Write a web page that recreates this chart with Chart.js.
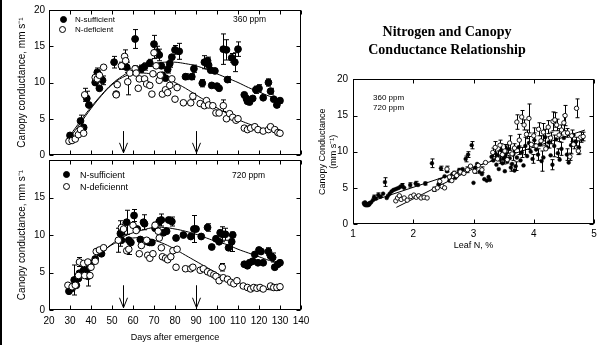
<!DOCTYPE html>
<html>
<head>
<meta charset="utf-8">
<script src="https://cdn.jsdelivr.net/npm/chart.js@4.4.0/dist/chart.umd.min.js"></script>
<style>
  html, body { margin: 0; padding: 0; background: #fff; overflow: hidden; }
  #wrap { position: relative; width: 601px; height: 345px; overflow: hidden; font-family: 'Liberation Sans', Arial, sans-serif; color: #000; }
  canvas { position: absolute; }
  .edge { position: absolute; left: 0; top: 0; width: 2px; height: 345px; background: #000; }
  .lbl { position: absolute; white-space: nowrap; line-height: 1; }
  .dot { position: absolute; width: 7px; height: 7px; border-radius: 50%; box-sizing: border-box; border: 1px solid #000; }
  .dot.fill { background: #000; }
  .dot.open { background: #fff; }
</style>
</head>
<body>
<div id="wrap">
  <div class="edge"></div>
  <canvas id="topChart" width="320" height="165" style="left:0;top:0"></canvas>
  <canvas id="bottomChart" width="320" height="195" style="left:0;top:150px"></canvas>
  <canvas id="rightChart" width="320" height="345" style="left:300px;top:0"></canvas>

  <div class="dot fill" style="left:60px;top:16px"></div>
  <div class="lbl" style="left:75px;top:16px;font-size:8px">N-sufficient</div>
  <div class="dot open" style="left:59px;top:26px"></div>
  <div class="lbl" style="left:75px;top:26px;font-size:8px">N-deficient</div>
  <div class="lbl" style="left:233px;top:15px;font-size:8.5px">360 ppm</div>

  <div class="dot fill" style="left:63px;top:171px"></div>
  <div class="lbl" style="left:80px;top:171px;font-size:9px">N-sufficient</div>
  <div class="dot open" style="left:63px;top:183px"></div>
  <div class="lbl" style="left:80px;top:183px;font-size:9px">N-deficiennt</div>
  <div class="lbl" style="left:232px;top:171px;font-size:8.5px">720 ppm</div>

  <div class="lbl" style="left:373px;top:94px;font-size:8px">360 ppm</div>
  <div class="lbl" style="left:373px;top:104px;font-size:8px">720 ppm</div>
</div>
<script>
// ---- 360 ppm, days after emergence ----
const suf360Days = [30, 35, 36.5, 38, 39, 42, 43, 44, 45.5, 51, 52, 57, 61, 64, 65.5, 68, 70, 71.5, 72.5, 73.5, 74, 75.5, 76.5, 77.5, 78.5, 80, 82, 85, 88, 89, 93, 94, 95.5, 96, 97, 97.5, 99, 100, 101, 103, 104.5, 105, 107, 108.5, 110, 113, 114, 114.5, 115.5, 117, 118.5, 120, 122, 124.5, 125.5, 127, 128.5, 130];
const suf360Vals = [2.7, 4.7, 3.8, 7.8, 6.9, 10.0, 11.4, 9.2, 10.3, 12.8, 8.4, 12.1, 16.0, 11.9, 12.2, 12.7, 15.3, 14.2, 13.8, 12.3, 11.0, 10.6, 11.8, 12.6, 13.5, 14.5, 14.3, 10.8, 10.8, 11.9, 9.9, 12.8, 13.0, 12.4, 11.7, 9.6, 11.6, 9.5, 9.2, 14.6, 14.5, 10.4, 13.4, 12.8, 14.6, 8.3, 7.8, 7.4, 7.3, 7.8, 9.0, 9.2, 7.9, 10.0, 8.8, 7.7, 6.9, 7.5];
const suf360Errs = [0, 0.8, 0, 1.0, 0, 0, 0.6, 0, 0.6, 0.8, 0, 0.7, 1.3, 0.5, 0.5, 0.5, 1.2, 0.8, 0.8, 0, 0, 0, 0.5, 0.5, 0, 0.6, 1.1, 0.4, 0.4, 0.5, 0.5, 0.9, 0.5, 0, 0, 0, 0, 0, 0, 2.1, 1.4, 0.4, 0.6, 1.3, 1.0, 0, 0, 0, 0, 0, 0.5, 0.5, 0, 0.5, 0.4, 0, 0.3, 0.3];

const def360Days = [29.5, 31, 32.5, 34, 35, 36.5, 37, 42, 43, 44, 46, 52, 52.5, 54.5, 56, 56.5, 57.5, 58.5, 61, 61.5, 62.5, 63, 65.5, 66.5, 68, 69, 69.5, 70, 71, 72.5, 73, 74, 75.5, 76.5, 77.5, 78.5, 80, 81, 84, 87.5, 88.5, 92, 94, 95, 96, 98, 99.5, 101, 103, 104.5, 106, 107.5, 109, 110, 113, 114.5, 116, 118, 119.5, 122, 124.5, 125.5, 127.5, 129, 130];
const def360Vals = [1.9, 2.0, 2.2, 2.8, 3.5, 3.0, 8.3, 10.7, 10.5, 11.0, 12.1, 8.3, 9.7, 12.3, 13.6, 13.0, 10.1, 11.3, 11.9, 11.3, 9.2, 10.5, 10.5, 9.8, 9.6, 8.4, 11.2, 14.1, 12.3, 10.3, 11.0, 8.4, 9.0, 8.6, 9.6, 10.5, 7.7, 9.3, 7.2, 7.2, 8.1, 7.1, 6.8, 7.5, 6.9, 6.8, 5.8, 5.8, 6.8, 5.0, 5.7, 5.2, 4.8, 5.0, 3.7, 3.5, 3.7, 3.9, 3.5, 3.3, 3.5, 3.9, 3.5, 3.1, 3.0];
const def360Errs = [0, 0, 0, 0, 0, 0, 0.9, 0, 0, 0, 0, 0, 0, 0.5, 0.9, 0, 1.8, 0, 0.4, 0, 0, 0, 0, 0, 0, 0, 0, 0.8, 0, 0, 0, 0, 0, 0, 0, 0, 0, 0, 0, 0, 0.4, 0, 0, 0, 0, 0, 0, 0, 0.8, 0, 0, 0, 0, 0, 0, 0, 0, 0, 0, 0, 0, 0, 0, 0, 0];

// ---- 720 ppm ----
const suf720Days = [29.5, 31, 32, 33, 34, 34.5, 36.5, 38, 38.5, 40, 42, 44, 45, 54, 54.5, 57, 58, 59, 60.5, 62, 63.5, 65, 65.5, 67, 68, 69, 70.5, 72.5, 73.5, 74.5, 76, 77, 78.5, 80.5, 84, 87.5, 89, 90, 92.5, 95.5, 97.5, 99.5, 101, 101.5, 102.5, 104, 105.5, 107, 107.5, 113, 114.5, 115.5, 117, 118, 119.5, 120, 121, 122, 124.5, 125.5, 126.5, 127.5, 129, 130];
const suf720Vals = [2.5, 2.9, 4.0, 3.3, 4.2, 4.9, 5.3, 5.3, 4.5, 6.2, 6.8, 7.7, 7.5, 10.2, 9.3, 11.7, 9.3, 9.0, 12.6, 10.8, 9.4, 11.7, 11.5, 9.1, 9.0, 9.0, 10.9, 11.8, 12.0, 10.3, 10.5, 12.0, 11.8, 9.6, 10.0, 9.8, 10.8, 10.8, 9.8, 11.0, 8.4, 9.5, 9.1, 10.3, 10.1, 10.1, 8.3, 9.1, 10.0, 6.1, 5.9, 6.3, 6.5, 7.4, 6.3, 8.0, 7.8, 6.3, 7.8, 7.2, 7.0, 5.7, 6.1, 6.3];
const suf720Errs = [0, 0, 2.0, 0, 0, 0, 0, 0, 1.3, 0, 0, 0, 0, 1.7, 0, 1.6, 0, 0, 0.8, 0, 0, 1.0, 0, 0, 0, 0, 0, 0.5, 0.8, 0, 0, 0, 0.6, 0, 0, 0, 1.8, 0, 0, 0.5, 0, 0, 0, 0, 1.0, 0.8, 0, 1.3, 0, 0, 0, 0, 0, 0, 0, 0, 0, 0, 0.5, 0, 0.6, 0, 0, 0];

const def720Days = [29, 31, 32.5, 34, 34.5, 36.5, 37, 38.5, 39.5, 40, 42, 42.5, 44, 46, 53, 54.5, 55.5, 57, 58, 60, 61.5, 63, 64, 66.5, 67, 68, 69.5, 70.5, 72, 72.5, 73.5, 74, 75.5, 76.5, 78, 79, 80.5, 81, 85, 87.5, 88.5, 92, 93.5, 95.5, 97, 98.5, 99.5, 101, 102.5, 103, 105, 106.5, 108, 109.5, 112.5, 114.5, 116, 117.5, 119, 120.5, 122, 125.5, 127, 128.5, 130];
const def720Vals = [3.3, 3.1, 3.3, 4.6, 6.4, 6.2, 4.6, 6.4, 4.6, 5.7, 6.5, 7.8, 8.0, 8.3, 9.3, 11.0, 10.8, 7.9, 8.1, 11.3, 10.6, 7.5, 8.6, 9.3, 7.3, 6.9, 7.5, 11.3, 10.5, 9.6, 8.3, 7.1, 6.9, 6.7, 7.1, 7.9, 5.7, 8.1, 5.5, 5.5, 5.7, 5.3, 5.5, 5.1, 4.9, 4.7, 4.5, 3.9, 5.7, 4.3, 4.1, 3.7, 3.5, 3.9, 3.2, 3.0, 2.8, 3.0, 2.9, 3.0, 2.8, 3.2, 3.0, 3.0, 3.1];
const def720Errs = [0, 0, 0, 0, 0.6, 0, 0, 0, 0, 0, 0, 0, 0, 0, 1.6, 0, 0.8, 0, 0.7, 0, 0, 0, 0, 0, 0, 0, 0, 0.4, 0, 0, 0, 0, 0, 0, 0, 0, 0, 0, 0, 0, 0, 0, 0, 0, 0, 0, 0, 0, 0.5, 0, 0, 0, 0, 0, 0, 0, 0, 0, 0, 0, 0, 0, 0, 0, 0];

// fitted curves, read every 5 days
const fitDays = [30, 35, 40, 45, 50, 55, 60, 65, 70, 75, 80, 85, 90, 95, 100, 105, 110, 115, 120, 125, 130];
const fitSuf360 = [2.7, 4.7, 6.6, 8.3, 9.8, 10.9, 11.7, 12.2, 12.6, 12.8, 12.8, 12.6, 12.3, 11.8, 11.2, 10.6, 10.0, 9.3, 8.7, 8.1, 7.6];
const fitDef360 = [2.4, 4.4, 6.4, 8.2, 9.7, 10.7, 11.2, 11.3, 11.1, 10.7, 10.0, 9.2, 8.3, 7.4, 6.5, 5.7, 4.9, 4.3, 3.8, 3.4, 3.1];
const fitSuf720 = [2.7, 4.6, 6.2, 7.6, 8.8, 9.7, 10.3, 10.7, 11.0, 11.0, 10.8, 10.5, 10.1, 9.6, 9.1, 8.7, 8.1, 7.6, 7.1, 6.6, 6.2];
const fitDef720 = [3.0, 4.8, 6.4, 7.7, 8.7, 9.3, 9.6, 9.6, 9.3, 8.8, 8.1, 7.3, 6.5, 5.7, 4.9, 4.2, 3.7, 3.2, 2.9, 2.7, 2.6];

const arrowDays = [55, 90];
const dayTicks = [20, 30, 40, 50, 60, 70, 80, 90, 100, 110, 120, 130, 140];
const condTicks = [0, 5, 10, 15, 20];

// ---- leaf N panel ----
const rightFilledN = [1.18, 1.19, 1.20, 1.21, 1.22, 1.23, 1.24, 1.25, 1.26, 1.27, 1.28, 1.30, 1.33, 1.35, 1.38, 1.42, 1.46, 1.50, 1.53, 1.56, 1.58, 1.61, 1.64, 1.67, 1.70, 1.73, 1.76, 1.79, 1.82, 1.85, 1.95, 2.04, 2.08, 2.20, 2.31, 2.42, 2.46, 2.52, 2.56, 2.60, 2.65, 2.70, 2.76, 2.82, 2.87, 2.91, 2.97, 3.00, 3.03, 3.06, 3.10, 3.14, 3.18, 3.22, 3.25, 3.27,
  3.30, 3.33, 3.36, 3.38, 3.40, 3.42, 3.44, 3.46, 3.48, 3.50, 3.52, 3.54, 3.56, 3.58, 3.60, 3.62, 3.64, 3.66, 3.68, 3.70, 3.72, 3.75, 3.78, 3.80, 3.83, 3.86, 3.89, 3.92, 3.95, 3.98, 4.01, 4.04, 4.07, 4.10, 4.13, 4.16, 4.19, 4.22, 4.25, 4.28, 4.31, 4.34, 4.37, 4.40, 4.43, 4.46, 4.50, 4.55, 4.58, 4.62, 4.66, 4.70, 4.75, 4.80];
const rightFilledV = [2.9, 2.7, 3.0, 2.6, 2.8, 2.6, 2.7, 2.6, 2.8, 2.7, 2.9, 3.0, 3.3, 3.7, 3.5, 4.0, 3.8, 4.2, 5.8, 3.6, 3.9, 4.2, 4.5, 4.7, 4.8, 4.9, 5.0, 5.2, 5.3, 5.0, 5.4, 5.6, 5.4, 5.6, 8.4, 5.5, 7.7, 6.6, 7.3, 6.0, 6.9, 6.4, 7.4, 7.6, 9.0, 9.6, 10.9, 5.7, 7.8, 8.3, 7.2, 6.9, 6.2, 6.0, 6.5, 6.1,
  9.3, 8.8, 9.8, 8.2, 9.5, 7.6, 8.9, 10.2, 8.4, 9.0, 7.3, 9.8, 8.6, 10.4, 9.1, 7.8, 8.3, 9.6, 7.4, 8.0, 9.2, 10.6, 8.8, 9.9, 8.1, 10.8, 9.4, 11.2, 10.0, 9.0, 11.6, 10.3, 9.6, 11.0, 8.7, 9.2, 12.0, 10.6, 11.3, 9.5, 8.2, 10.8, 11.7, 9.8, 8.9, 10.4, 11.9, 9.6, 8.5, 10.9, 12.3, 11.4, 10.6, 11.8];
const rightFilledE = [0, 0, 0, 0, 0, 0, 0, 0, 0, 0, 0, 0, 0, 0.3, 0, 0.3, 0, 0, 0.6, 0, 0, 0, 0, 0, 0, 0, 0, 0, 0.3, 0, 0.3, 0.3, 0, 0.2, 0.6, 0, 0.3, 0, 0, 0, 0, 0, 0.3, 0, 0.4, 0.4, 0.5, 0, 0, 0, 0, 0, 0, 0, 0, 0,
  0.5, 0, 0.8, 0, 0.6, 0, 0.5, 0.9, 0, 0.7, 0, 1.0, 0, 0.6, 0, 0.5, 0, 0.8, 0, 0.6, 0, 1.0, 0, 0.7, 0, 1.2, 0, 0.9, 0, 0.6, 1.0, 0, 0.8, 0, 1.4, 0, 1.1, 0, 0.8, 0, 0.7, 1.5, 0, 0.6, 0, 0.9, 0, 0.8, 0, 1.2, 0, 0.6, 0.9, 0];

const rightOpenN = [1.71, 1.74, 1.77, 1.80, 1.85, 1.90, 1.96, 2.01, 2.05, 2.09, 2.13, 2.18, 2.23, 2.35, 2.40, 2.44, 2.48, 2.52, 2.56, 2.60, 2.64, 2.68, 2.72, 2.78, 2.84, 2.90, 2.95, 3.02, 3.08, 3.14, 3.20,
  3.32, 3.36, 3.40, 3.44, 3.48, 3.52, 3.56, 3.60, 3.64, 3.68, 3.72, 3.76, 3.80, 3.84, 3.88, 3.92, 3.96, 4.00, 4.04, 4.08, 4.12, 4.16, 4.20, 4.24, 4.28, 4.32, 4.35, 4.38, 4.42, 4.46, 4.50, 4.52, 4.56, 4.60, 4.63, 4.66, 4.71, 4.74, 4.78, 4.82];
const rightOpenV = [3.2, 3.6, 3.9, 3.4, 3.6, 3.3, 3.8, 4.0, 3.7, 3.9, 3.6, 3.7, 3.6, 4.8, 5.0, 5.9, 5.2, 5.0, 7.6, 6.5, 6.0, 7.0, 6.7, 7.2, 7.0, 7.5, 8.0, 7.3, 8.1, 7.5, 8.5,
  9.9, 10.6, 9.0, 10.9, 9.6, 10.1, 8.9, 11.2, 9.7, 10.5, 14.1, 11.6, 14.8, 13.7, 12.4, 14.6, 11.0, 12.2, 10.8, 13.1, 11.5, 12.7, 10.4, 13.4, 11.9, 14.2, 14.4, 13.7, 12.3, 13.0, 14.0, 15.0, 12.6, 9.3, 12.2, 11.0, 16.0, 10.1, 12.0, 12.1];
const rightOpenE = [0, 0, 0, 0, 0, 0, 0, 0, 0, 0, 0, 0, 0, 0.3, 0, 0.4, 0, 0, 0.4, 0, 0, 0.3, 0, 0.3, 0, 0.4, 0, 0.3, 0, 0.4, 0,
  0.6, 0.8, 0, 0.7, 0, 0.9, 0, 1.0, 0, 0.6, 1.0, 0.8, 0.9, 0.7, 0.6, 2.0, 0, 1.1, 0, 0.9, 0.7, 1.2, 0, 0.9, 0.8, 1.3, 1.0, 0.8, 0.9, 0.7, 1.1, 1.4, 0.6, 0.5, 0.8, 0.6, 1.3, 0.5, 0.7, 0.6];

// regression lines (end points)
const regUpperN = [1.2, 4.85];
const regUpperV = [2.85, 13.0];
const regLowerN = [1.72, 3.2];
const regLowerV = [2.3, 8.5];
const leafTicks = [1, 2, 3, 4, 5];

Chart.defaults.font.family = "'Liberation Sans', Arial, sans-serif";
Chart.defaults.color = '#000';
Chart.defaults.animation = false;

const toPts = (xs, ys) => xs.map((x, i) => ({ x, y: ys[i] }));

// vertical error bars with caps, drawn under the markers
const errorBars = {
  id: 'errorBars',
  beforeDatasetsDraw(chart, args, opts) {
    const { ctx, scales: { x, y } } = chart;
    const cap = opts.cap || 2.5;
    ctx.save();
    ctx.strokeStyle = '#000';
    ctx.lineWidth = 1;
    chart.data.datasets.forEach(ds => {
      if (!ds.errors) return;
      ds.data.forEach((p, j) => {
        const e = ds.errors[j];
        if (!e) return;
        const px = Math.round(x.getPixelForValue(p.x)) + 0.5;
        const top = y.getPixelForValue(p.y + e);
        const bot = y.getPixelForValue(p.y - e);
        ctx.beginPath();
        ctx.moveTo(px, top); ctx.lineTo(px, bot);
        ctx.moveTo(px - cap, top); ctx.lineTo(px + cap, top);
        ctx.moveTo(px - cap, bot); ctx.lineTo(px + cap, bot);
        ctx.stroke();
      });
    });
    ctx.restore();
  }
};

// box frame with inward ticks on all four sides, plus optional arrows
const frame = {
  id: 'frame',
  afterDraw(chart, args, opts) {
    const { ctx, chartArea: a, scales: { x, y } } = chart;
    const len = opts.len || 4;
    ctx.save();
    ctx.strokeStyle = '#000';
    ctx.lineWidth = 1;
    const L = Math.round(a.left) + 0.5, R = Math.round(a.right) - 0.5;
    const T = Math.round(a.top) + 0.5, B = Math.round(a.bottom) - 0.5;
    ctx.strokeRect(L, T, R - L, B - T);
    ctx.beginPath();
    (opts.xTicks || []).forEach(v => {
      const px = Math.round(x.getPixelForValue(v)) + 0.5;
      ctx.moveTo(px, T); ctx.lineTo(px, T + len);
      ctx.moveTo(px, B); ctx.lineTo(px, B - len);
    });
    (opts.yTicks || []).forEach(v => {
      const py = Math.round(y.getPixelForValue(v)) + 0.5;
      ctx.moveTo(L, py); ctx.lineTo(L + len, py);
      ctx.moveTo(R, py); ctx.lineTo(R - len, py);
    });
    ctx.stroke();
    if (opts.arrows) {
      const ar = opts.arrows;
      ctx.beginPath();
      ar.days.forEach(d => {
        const px = Math.round(x.getPixelForValue(d)) + 0.5;
        const y0 = y.getPixelForValue(ar.from), y1 = y.getPixelForValue(ar.to);
        ctx.moveTo(px, y0); ctx.lineTo(px, y1);
        ctx.moveTo(px - 4, y1 - 10); ctx.lineTo(px, y1); ctx.lineTo(px + 4, y1 - 10);
      });
      ctx.stroke();
    }
    ctx.restore();
  }
};

function timeChart(id, sets, showX, padTop) {
  return new Chart(document.getElementById(id), {
    type: 'scatter',
    data: {
      datasets: [
        { data: toPts(sets.defDays, sets.defVals), errors: sets.defErrs, pointRadius: 3.3, pointBackgroundColor: '#fff', pointBorderColor: '#000', pointBorderWidth: 1 },
        { data: toPts(sets.sufDays, sets.sufVals), errors: sets.sufErrs, pointRadius: 3.4, pointBackgroundColor: '#000', pointBorderColor: '#000', pointBorderWidth: 1 },
        { data: toPts(fitDays, sets.fitSuf), showLine: true, pointRadius: 0, borderColor: '#000', borderWidth: 1, tension: 0.4 },
        { data: toPts(fitDays, sets.fitDef), showLine: true, pointRadius: 0, borderColor: '#000', borderWidth: 1, tension: 0.4 }
      ]
    },
    options: {
      responsive: false,
      layout: { padding: { top: padTop, right: 19, bottom: showX ? 0 : 7, left: 0 } },
      plugins: {
        legend: { display: false },
        tooltip: { enabled: false },
        errorBars: { cap: 2.5 },
        frame: { xTicks: dayTicks, yTicks: condTicks, len: 4, arrows: { days: arrowDays, from: 3.3, to: 0.3 } }
      },
      scales: {
        x: {
          min: 20, max: 140,
          display: showX,
          grid: { display: false, drawTicks: false },
          border: { display: false },
          ticks: { stepSize: 10, padding: 5, font: { size: 10 }, maxRotation: 0 },
          title: { display: true, text: 'Days after emergence', font: { size: 9 }, padding: { top: 0, bottom: 2 } },
          afterFit: s => { s.height = showX ? 35 : 0; }
        },
        y: {
          min: 0, max: 20,
          grid: { display: false, drawTicks: false },
          border: { display: false },
          ticks: { stepSize: 5, padding: 4, font: { size: 10 } },
          afterBuildTicks: s => { if (showX) s.ticks = s.ticks.filter(t => t.value < 20); },
          title: { display: true, text: 'Canopy conductance, mm s\u207B\u00B9', font: { size: 10 }, padding: { top: 16, bottom: 0 } },
          afterFit: s => { s.width = 49; }
        }
      }
    },
    plugins: [errorBars, frame]
  });
}

timeChart('topChart', {
  sufDays: suf360Days, sufVals: suf360Vals, sufErrs: suf360Errs,
  defDays: def360Days, defVals: def360Vals, defErrs: def360Errs,
  fitSuf: fitSuf360, fitDef: fitDef360
}, false, 9);

timeChart('bottomChart', {
  sufDays: suf720Days, sufVals: suf720Vals, sufErrs: suf720Errs,
  defDays: def720Days, defVals: def720Vals, defErrs: def720Errs,
  fitSuf: fitSuf720, fitDef: fitDef720
}, true, 9);

new Chart(document.getElementById('rightChart'), {
  type: 'scatter',
  data: {
    datasets: [
      { data: toPts(rightOpenN, rightOpenV), errors: rightOpenE, pointRadius: 2.2, pointBackgroundColor: '#fff', pointBorderColor: '#000', pointBorderWidth: 0.9 },
      { data: toPts(rightFilledN, rightFilledV), errors: rightFilledE, pointRadius: 1.9, pointBackgroundColor: '#000', pointBorderColor: '#000', pointBorderWidth: 0.5 },
      { data: toPts(regUpperN, regUpperV), showLine: true, pointRadius: 0, borderColor: '#000', borderWidth: 1 },
      { data: toPts(regLowerN, regLowerV), showLine: true, pointRadius: 0, borderColor: '#000', borderWidth: 1 }
    ]
  },
  options: {
    responsive: false,
    layout: { padding: { top: 0, right: 26, bottom: 91, left: 0 } },
    plugins: {
      legend: { display: false },
      tooltip: { enabled: false },
      title: {
        display: true,
        text: ['Nitrogen and Canopy', 'Conductance Relationship'],
        font: { family: "'Liberation Serif', 'Times New Roman', serif", size: 14, weight: 'bold', lineHeight: 1.3 },
        padding: { top: 23, bottom: 20 },
        color: '#000'
      },
      errorBars: { cap: 2 },
      frame: { xTicks: leafTicks, yTicks: condTicks, len: 4 }
    },
    scales: {
      x: {
        min: 1, max: 5,
        grid: { display: false, drawTicks: false },
        border: { display: false },
        ticks: { stepSize: 1, padding: 4, font: { size: 10 } },
        title: { display: true, text: 'Leaf N, %', font: { size: 9 }, padding: { top: 0, bottom: 3 } },
        afterFit: s => { s.height = 30; }
      },
      y: {
        min: 0, max: 20,
        grid: { display: false, drawTicks: false },
        border: { display: false },
        ticks: { stepSize: 5, padding: 5, font: { size: 10 } },
        title: { display: true, text: ['Canopy Conductance', '(mm s\u207B\u00B9)'], font: { size: 9 }, padding: { top: 17, bottom: 0 } },
        afterFit: s => { s.width = 53; }
      }
    }
  },
  plugins: [errorBars, frame]
});
</script>
</body>
</html>
